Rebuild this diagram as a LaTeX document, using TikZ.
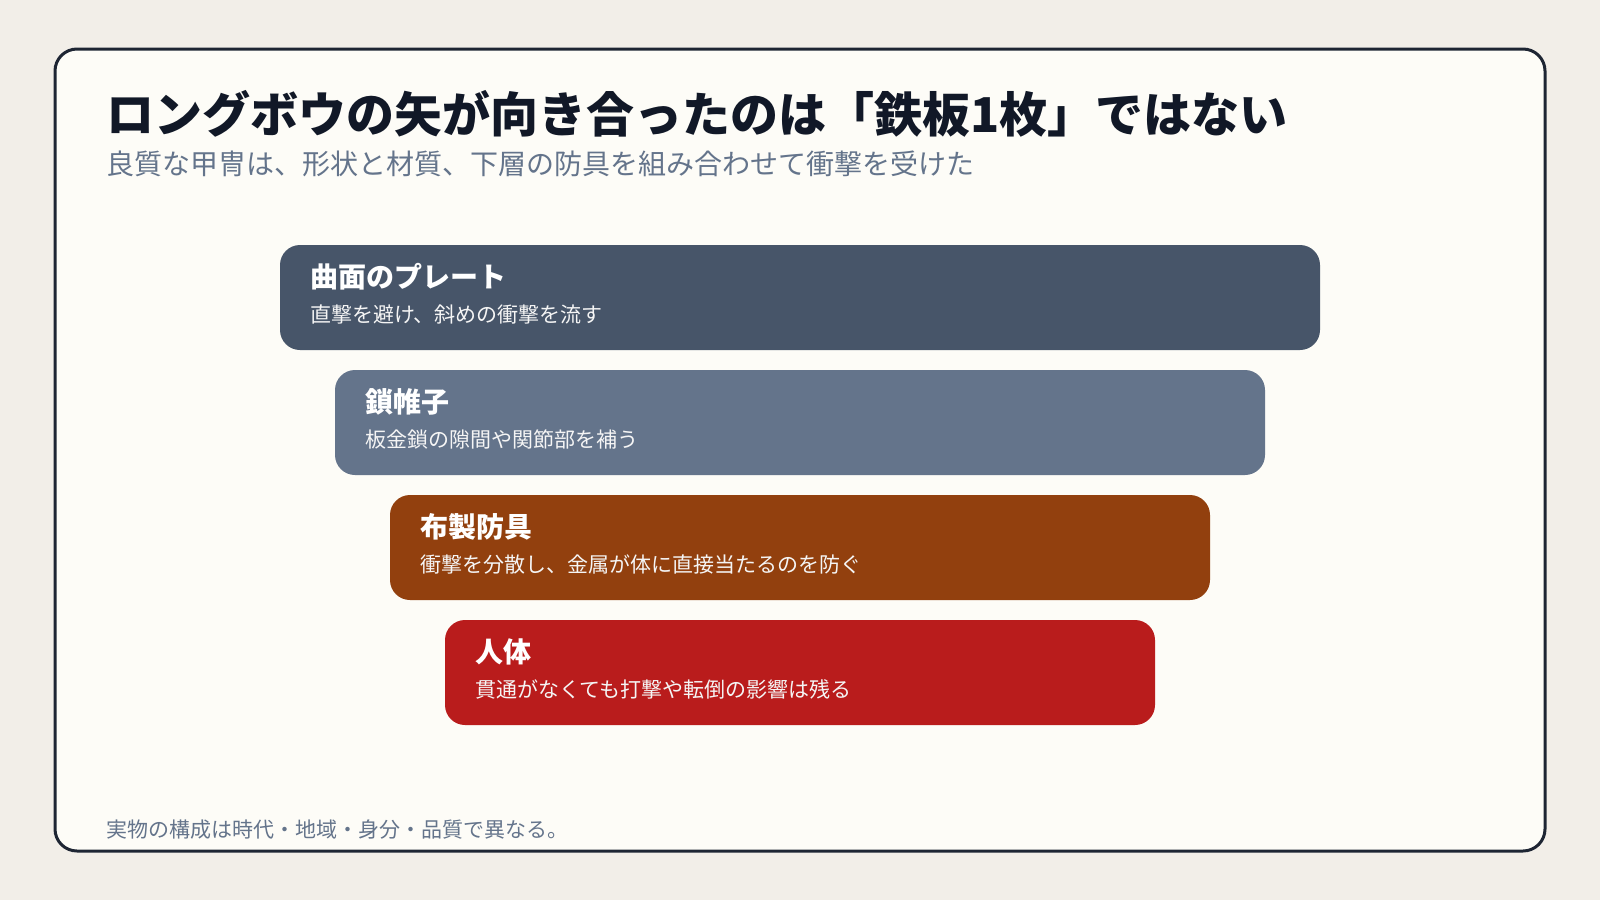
\documentclass[tikz,border=0pt]{standalone}
\usepackage{fontspec}
\setmainfont{Noto Sans CJK JP}
\definecolor{pagebg}{HTML}{F2EEE8}
\definecolor{cardbg}{HTML}{FDFCF7}
\definecolor{frame}{HTML}{1E2533}
\definecolor{titlec}{HTML}{111827}
\definecolor{subc}{HTML}{64748B}
\definecolor{layA}{HTML}{475569}
\definecolor{layB}{HTML}{64748B}
\definecolor{layC}{HTML}{92400E}
\definecolor{layD}{HTML}{B91C1C}
\begin{document}
\begin{tikzpicture}[x=0.5pt,y=-0.5pt,
  layer/.style={rectangle, rounded corners=10pt, draw=none, minimum height=52.5pt, inner sep=0pt},
  laytitle/.style={anchor=west, inner sep=0pt, text=white, font=\fontsize{14}{16}\selectfont\bfseries},
  laydesc/.style={anchor=west, inner sep=0pt, text=white!92!gray, font=\fontsize{10.5}{12}\selectfont},
]
\useasboundingbox (0,0) rectangle (1600,900);
\fill[pagebg] (0,0) rectangle (1600,900);
\draw[frame, line width=1.5pt, fill=cardbg, rounded corners=11pt] (55,49) rectangle (1545,851);

\node[anchor=west, inner sep=0pt, text=titlec, font=\fontsize{24}{28}\selectfont\bfseries] (title) at (106,114) {ロングボウの矢が向き合ったのは「鉄板1枚」ではない};
\node[anchor=west, inner sep=0pt, text=subc, font=\fontsize{14}{16}\selectfont] (sub) at (106,164) {良質な甲冑は、形状と材質、下層の防具を組み合わせて衝撃を受けた};

\node[layer, fill=layA, minimum width=520pt] (b1) at (800,297.5) {};
\node[layer, fill=layB, minimum width=465pt] (b2) at (800,422.5) {};
\node[layer, fill=layC, minimum width=410pt] (b3) at (800,547.5) {};
\node[layer, fill=layD, minimum width=355pt] (b4) at (800,672.5) {};

\node[laytitle] (t1) at ([xshift=15pt,yshift=10.5pt]b1.west) {曲面のプレート};
\node[laydesc] (d1) at ([xshift=15pt,yshift=-8.5pt]b1.west) {直撃を避け、斜めの衝撃を流す};
\node[laytitle] (t2) at ([xshift=15pt,yshift=10.5pt]b2.west) {鎖帷子};
\node[laydesc] (d2) at ([xshift=15pt,yshift=-8.5pt]b2.west) {板金鎖の隙間や関節部を補う};
\node[laytitle] (t3) at ([xshift=15pt,yshift=10.5pt]b3.west) {布製防具};
\node[laydesc] (d3) at ([xshift=15pt,yshift=-8.5pt]b3.west) {衝撃を分散し、金属が体に直接当たるのを防ぐ};
\node[laytitle] (t4) at ([xshift=15pt,yshift=10.5pt]b4.west) {人体};
\node[laydesc] (d4) at ([xshift=15pt,yshift=-8.5pt]b4.west) {貫通がなくても打撃や転倒の影響は残る};

\node[anchor=west, inner sep=0pt, text=subc, font=\fontsize{10.5}{12}\selectfont] (foot) at (106,830) {実物の構成は時代・地域・身分・品質で異なる。};
\end{tikzpicture}
\end{document}
